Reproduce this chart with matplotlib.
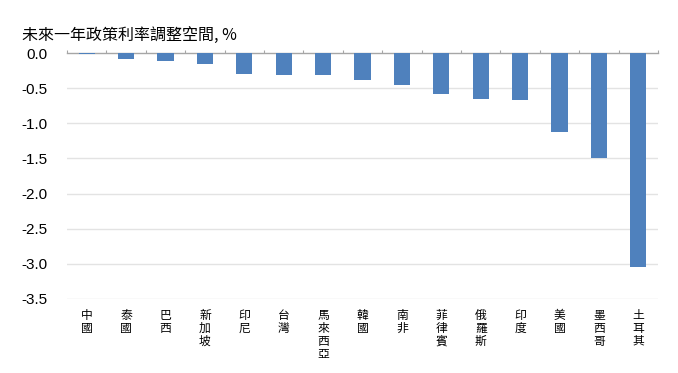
import matplotlib
matplotlib.use("Agg")
import matplotlib.pyplot as plt
import numpy as np

# 各國未來一年政策利率調整空間 (%)
countries = ["中國", "泰國", "巴西", "新加坡", "印尼", "台灣", "馬來西亞", "韓國",
             "南非", "菲律賓", "俄羅斯", "印度", "美國", "墨西哥", "土耳其"]
values = [-0.02, -0.08, -0.11, -0.16, -0.30, -0.31, -0.32, -0.38,
          -0.45, -0.58, -0.65, -0.67, -1.13, -1.50, -3.05]
yticks = [0.0, -0.5, -1.0, -1.5, -2.0, -2.5, -3.0, -3.5]
title = "未來一年政策利率調整空間, %"

plt.rcParams["font.family"] = ["Noto Sans CJK TC", "DejaVu Sans"]
plt.rcParams["axes.unicode_minus"] = False

fig = plt.figure(figsize=(6.78, 3.73), dpi=100)
ax = fig.add_axes([0.0988, 0.1985, 0.8717, 0.6594])

x = np.arange(len(countries))
ax.bar(x, values, width=0.41, color="#4F81BD", zorder=3)

ax.set_xlim(-0.5, len(countries) - 0.5)
ax.set_ylim(-3.5, 0)
ax.set_yticks(yticks)
ax.set_yticklabels([f"{v:.1f}" for v in yticks], fontfamily="Liberation Sans", fontsize=11)
ax.tick_params(axis="y", length=0, pad=14)

# 水平格線
for v in yticks[1:]:
    ax.axhline(v, color="#E3E3E3", lw=1, zorder=1)

# 類別標籤 (直書)
ax.set_xticks(x)
ax.set_xticklabels(["\n".join(c) for c in countries], fontsize=8.5, linespacing=1.0,
                   va="top")
ax.tick_params(axis="x", which="major", length=0, pad=7)

# 零軸與分隔刻度
ax.set_xticks(np.arange(len(countries) + 1) - 0.5, minor=True)
ax.tick_params(axis="x", which="minor", top=True, bottom=False, direction="out",
               length=2.5, color="#A6A6A6", width=0.8)
for s in ["left", "right", "bottom"]:
    ax.spines[s].set_visible(False)
ax.spines["top"].set_color("#A6A6A6")
ax.spines["top"].set_linewidth(1)

fig.text(0.033, 0.905, title, fontsize=11.5, ha="left", va="center")

fig.savefig("out.png", dpi=100)
